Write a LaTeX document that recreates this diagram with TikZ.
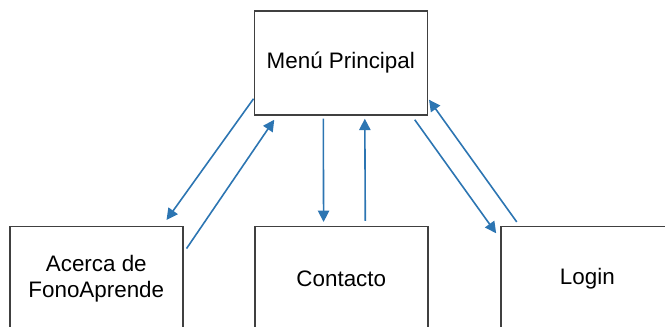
\documentclass[tikz,border=0pt]{standalone}
\usepackage{fontspec}
\setmainfont{Liberation Sans}
\usetikzlibrary{arrows.meta,calc}
\definecolor{linkblue}{RGB}{44,117,178}
\definecolor{boxgray}{RGB}{64,64,64}
\tikzset{
  screen/.style={draw=boxgray, line width=1.1pt, fill=white,
    minimum width=129.75pt, minimum height=78pt, inner sep=0pt,
    align=center, font=\fontsize{16.8}{19.8}\selectfont},
  link/.style={draw=linkblue, line width=1.2pt,
    -{Triangle[length=8.5pt,width=8.5pt]}, shorten >=0pt}
}
\begin{document}
\begin{tikzpicture}[x=0.75pt,y=-0.75pt]
  \useasboundingbox (0,0) rectangle (665,327);
  \clip (0,0) rectangle (665,327);
  % screens of the app
  \node[screen] (menu) at (340.8,63) {Menú Principal};
  \node[screen] (about) at (96.3,278.7) {Acerca de\\FonoAprende};
  \node[screen] (contact) at (341.3,278.7) {Contacto};
  \node[screen] (login) at (587.4,278.7) {Login};
  % navigation links
  \draw[link] ($(menu.south west)+(0,-17)$) -- ($(about.north east)+(-17,-6)$);
  \draw[link] ($(about.north east)+(3,22.6)$) -- ($(menu.south west)+(20.7,4)$);
  \draw[link] ($(menu.south)+(-17.5,3)$) -- ($(contact.north)+(-17.7,-4)$);
  \draw[link] ($(contact.north)+(24,-5)$) -- ($(menu.south)+(24,3)$);
  \draw[link] ($(menu.south east)+(-13.3,4)$) -- ($(login.north west)+(-4,7.3)$);
  \draw[link] ($(login.north west)+(16.6,-4)$) -- ($(menu.south east)+(1,-16)$);
\end{tikzpicture}
\end{document}
